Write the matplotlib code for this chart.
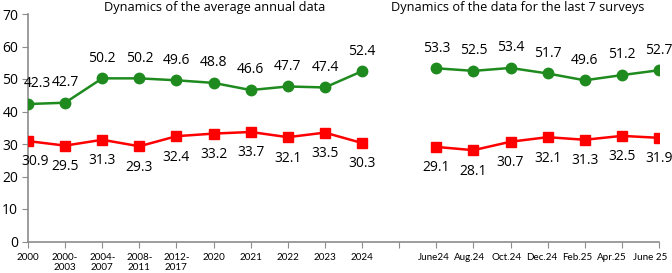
import matplotlib
matplotlib.use("Agg")
import matplotlib.pyplot as plt
import matplotlib.transforms as mtransforms
import numpy as np

categories = ["2000", "2000-\n2003", "2004-\n2007", "2008-\n2011", "2012-\n2017", "2020", "2021",
              "2022", "2023", "2024", "", "June24", "Aug.24", "Oct.24", "Dec.24", "Feb.25",
              "Apr.25", "June 25"]
green_vals = [42.3, 42.7, 50.2, 50.2, 49.6, 48.8, 46.6, 47.7, 47.4, 52.4, None,
              53.3, 52.5, 53.4, 51.7, 49.6, 51.2, 52.7]
red_vals = [30.9, 29.5, 31.3, 29.3, 32.4, 33.2, 33.7, 32.1, 33.5, 30.3, None,
            29.1, 28.1, 30.7, 32.1, 31.3, 32.5, 31.9]
title_left = "Dynamics of the average annual data"
title_right = "Dynamics of the data for the last 7 surveys"
yticks = [0, 10, 20, 30, 40, 50, 60, 70]

plt.rcParams['font.family'] = ['Open Sans', 'DejaVu Sans']

GREEN = "#1f8b1f"
RED = "#ff0000"
AXC = "#8c8c8c"

fig = plt.figure(figsize=(6.72, 2.73), dpi=100)
ax = fig.add_axes([28/672, 1 - 241.5/273, (659-28)/672, (241.5-14)/273])

x = np.arange(len(categories))
g = np.array([np.nan if v is None else v for v in green_vals], dtype=float)
r = np.array([np.nan if v is None else v for v in red_vals], dtype=float)

ax.plot(x, g, color=GREEN, lw=1.8, marker="o", ms=7.5, mfc=GREEN, mec=GREEN, zorder=3)
ax.plot(x, r, color=RED, lw=1.8, marker="s", ms=7, mfc=RED, mec=RED, zorder=3)

for i in range(len(categories)):
    if not np.isnan(g[i]):
        ha = "left" if i == 0 else "center"
        dx = -3 if i == 0 else 0
        ax.annotate(f"{g[i]:.1f}", (x[i], g[i]), xytext=(dx, 14.5), textcoords="offset points",
                    ha=ha, va="center", fontsize=10, color="black")
    if not np.isnan(r[i]):
        ha = "left" if i == 0 else "center"
        dx = -5 if i == 0 else 0
        ax.annotate(f"{r[i]:.1f}", (x[i], r[i]), xytext=(dx, -15), textcoords="offset points",
                    ha=ha, va="center", fontsize=10, color="black")

ax.set_xlim(0, len(categories) - 1)
ax.set_ylim(0, 70)
ax.set_yticks(yticks)
ax.set_xticks(x)
ax.set_xticklabels(categories, fontsize=7.1, linespacing=1.15, family=["Lato", "DejaVu Sans"])
ax.tick_params(axis="y", labelsize=10, length=4, color=AXC, pad=3)
ax.tick_params(axis="x", length=4, color=AXC, pad=4)
for s in ["top", "right"]:
    ax.spines[s].set_visible(False)
for s in ["left", "bottom"]:
    ax.spines[s].set_color(AXC)
    ax.spines[s].set_linewidth(1.2)
ax.spines["left"].set_zorder(1)

# label nudges (pixels) for the right-hand group, matching the reference layout
label_shift_px = [0, 0, 0, 0, 0, 0, 0, 0, 0, 0, 0, -2, -4, -4, -6, -8, -10, -9]
for lab, dpx in zip(ax.get_xticklabels(), label_shift_px):
    if dpx:
        lab.set_transform(lab.get_transform() + mtransforms.ScaledTranslation(dpx/100, 0, fig.dpi_scale_trans))

fig.text(215/672, 1 - 7/273, title_left, ha="center", va="center", fontsize=9.2)
fig.text(518/672, 1 - 7/273, title_right, ha="center", va="center", fontsize=9.2)

fig.savefig("out.png", dpi=100)
